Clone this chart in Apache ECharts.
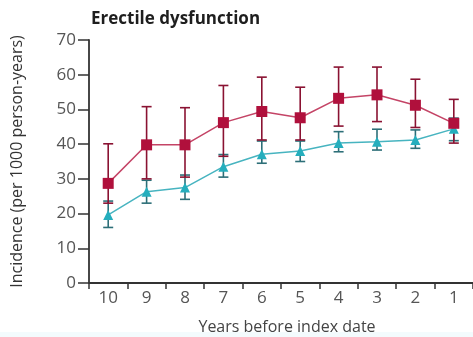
<!DOCTYPE html>
<html>
<head>
<meta charset="utf-8">
<script src="https://cdn.jsdelivr.net/npm/echarts@6/dist/echarts.min.js"></script>
<style>
html,body{margin:0;padding:0;background:#fff;}
#c{width:473px;height:337px;}
</style>
</head>
<body>
<div id="c"></div>
<script>
var years = ['10','9','8','7','6','5','4','3','2','1'];
var edValue = [28.7, 39.8, 39.8, 46.2, 49.4, 47.6, 53.2, 54.2, 51.2, 46.0];
var edLow   = [23.0, 30.0, 30.5, 36.5, 41.2, 41.2, 45.2, 46.5, 44.8, 40.3];
var edHigh  = [40.1, 50.8, 50.5, 56.9, 59.3, 56.4, 62.2, 62.2, 58.7, 52.9];
var ctrlValue = [19.6, 26.3, 27.5, 33.5, 37.1, 38.0, 40.3, 40.7, 41.2, 44.4];
var ctrlLow   = [16.0, 23.0, 24.1, 30.5, 34.5, 35.0, 37.8, 38.3, 38.8, 41.0];
var ctrlHigh  = [23.6, 29.6, 31.1, 37.0, 40.9, 40.9, 43.6, 44.3, 44.1, 47.5];
var yTicks = [0, 10, 20, 30, 40, 50, 60, 70];

var FONT = "'Open Sans', 'DejaVu Sans', sans-serif";

function errData(low, high) {
  return years.map(function (y, i) { return [i, low[i], high[i]]; });
}
function errRender(color) {
  return function (params, api) {
    var x = api.value(0);
    var lo = api.coord([x, api.value(1)]);
    var hi = api.coord([x, api.value(2)]);
    var w = 5;
    var st = { stroke: color, lineWidth: 1.6 };
    return {
      type: 'group',
      children: [
        { type: 'line', shape: { x1: lo[0], y1: lo[1], x2: hi[0], y2: hi[1] }, style: st },
        { type: 'line', shape: { x1: lo[0] - w, y1: lo[1], x2: lo[0] + w, y2: lo[1] }, style: st },
        { type: 'line', shape: { x1: hi[0] - w, y1: hi[1], x2: hi[0] + w, y2: hi[1] }, style: st }
      ]
    };
  };
}

var chart = echarts.init(document.getElementById('c'));
chart.setOption({
  animation: false,
  backgroundColor: '#ffffff',
  graphic: [
    { type: 'rect', left: 0, top: 332, shape: { width: 473, height: 5 }, style: { fill: '#f3fbfd' }, z: -1 }
  ],
  title: {
    text: 'Erectile dysfunction',
    left: 86, top: 6,
    textStyle: { fontFamily: FONT, fontWeight: 'bold', fontSize: 17, color: '#1e1e1e' }
  },
  grid: { left: 89, right: 0, top: 40, bottom: 54, containLabel: false, outerBoundsMode: 'none' },
  xAxis: {
    type: 'category',
    data: years,
    boundaryGap: true,
    name: 'Years before index date',
    nameLocation: 'middle',
    nameGap: 36,
    nameTextStyle: { fontFamily: FONT, fontSize: 16, color: '#444', padding: [0, 0, 0, 12] },
    axisLine: { lineStyle: { color: '#333', width: 1.8 } },
    axisTick: { show: true, length: 6, lineStyle: { color: '#333', width: 1.5 } },
    axisLabel: { fontFamily: FONT, fontSize: 17, color: '#555', margin: 7 },
    splitLine: { show: false }
  },
  yAxis: {
    type: 'value',
    min: 0, max: 70, interval: 10,
    name: 'Incidence (per 1000 person-years)',
    nameLocation: 'middle',
    nameGap: 64,
    nameTextStyle: { fontFamily: FONT, fontSize: 16, color: '#333' },
    axisLine: { show: true, lineStyle: { color: '#333', width: 1.8 } },
    axisTick: { show: true, length: 11, lineStyle: { color: '#333', width: 1.5 } },
    axisLabel: {
      fontFamily: FONT, fontSize: 17, color: '#555', margin: 13,
      formatter: function (v) { return yTicks.indexOf(v) >= 0 ? String(v) : ''; }
    },
    splitLine: { show: false }
  },
  series: [
    {
      type: 'custom', name: 'ctrlErr', data: errData(ctrlLow, ctrlHigh),
      renderItem: errRender('#2d6f78'), z: 2
    },
    {
      type: 'custom', name: 'edErr', data: errData(edLow, edHigh),
      renderItem: errRender('#8a1232'), z: 2
    },
    {
      type: 'line', name: 'Control', data: ctrlValue,
      symbol: 'triangle', symbolSize: 10,
      lineStyle: { color: '#47b4c0', width: 1.5 },
      itemStyle: { color: '#25aebd' }, z: 3
    },
    {
      type: 'line', name: 'Erectile dysfunction', data: edValue,
      symbol: 'rect', symbolSize: 11,
      lineStyle: { color: '#c44466', width: 1.5 },
      itemStyle: { color: '#b0103c' }, z: 4
    }
  ]
});
</script>
</body>
</html>
